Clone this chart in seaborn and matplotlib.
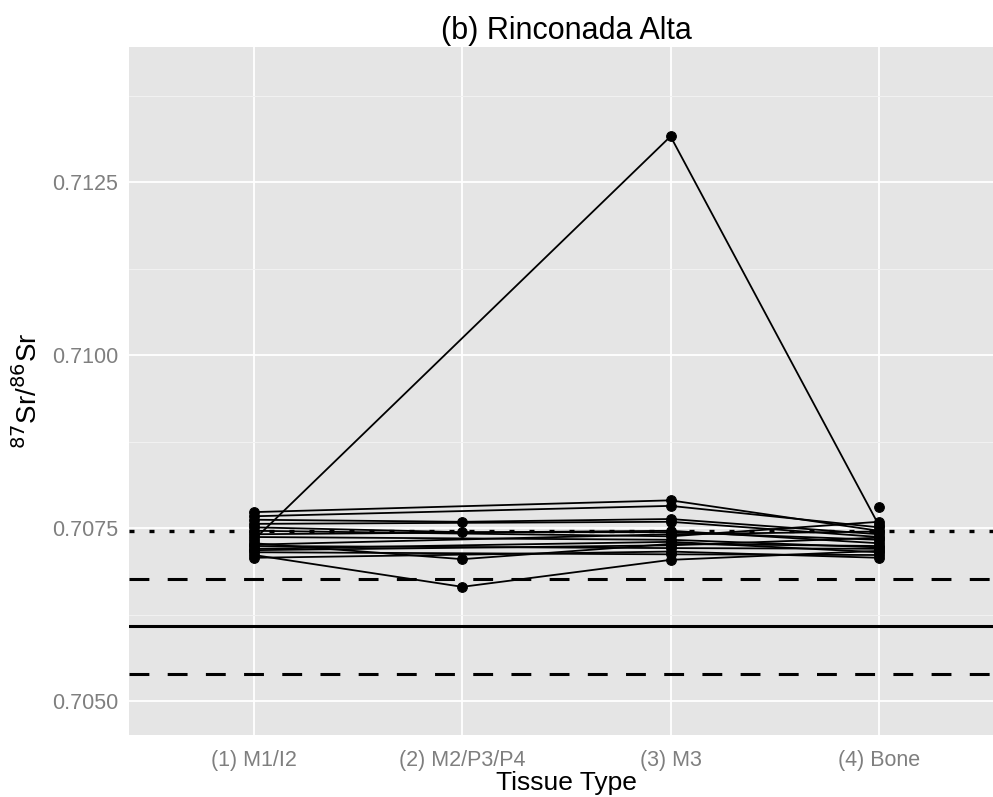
import numpy as np
import pandas as pd
import matplotlib
matplotlib.use("Agg")
import matplotlib.pyplot as plt
import seaborn as sns

# tissue categories (x axis)
tissues = ["(1) M1/I2", "(2) M2/P3/P4", "(3) M3", "(4) Bone"]

# 87Sr/86Sr per individual, one list per tissue (nan = not sampled)
m1_i2 = [0.70733, 0.70773, 0.70767, 0.70762, 0.70756, 0.70751, 0.70746, 0.70741,
         0.70737, 0.70728, 0.70724, 0.70720, 0.70715, 0.70711, 0.70707, 0.70726,
         0.70718, np.nan]
m2_p3_p4 = [np.nan, np.nan, np.nan, 0.70759, np.nan, 0.70744, np.nan, np.nan,
            np.nan, 0.70705, np.nan, np.nan, np.nan, 0.70665, np.nan, np.nan,
            np.nan, np.nan]
m3 = [0.71316, 0.70790, 0.70782, 0.70763, 0.70759, 0.70744, 0.70738, 0.70746,
      0.70733, 0.70727, 0.70721, 0.70730, 0.70712, 0.70704, 0.70716, 0.70741,
      0.70725, np.nan]
bone = [0.70754, 0.70746, 0.70751, 0.70741, 0.70737, 0.70733, 0.70759, 0.70728,
        0.70722, 0.70724, 0.70720, 0.70715, 0.70711, 0.70717, 0.70707, 0.70745,
        0.70736, 0.70780]

# local baseline reference lines
ref_mean = 0.70608
ref_sd_low = 0.70539
ref_sd_high = 0.70676
ref_upper = 0.70746

rows = []
for tissue_idx, vals in enumerate([m1_i2, m2_p3_p4, m3, bone]):
    for ind, v in enumerate(vals):
        rows.append({"id": ind, "tissue": tissue_idx, "sr": v})
df = pd.DataFrame(rows).dropna()

sns.set_style("darkgrid", {"axes.facecolor": "#E5E5E5", "grid.color": "white"})
plt.rcParams["font.family"] = ["Liberation Sans", "DejaVu Sans"]

fig = plt.figure(figsize=(9.93, 7.97), dpi=100)
ax = fig.add_axes([0.1299, 0.0778, 0.881, 0.8632])

ax.axhline(ref_upper, color="black", lw=2.4, linestyle=(0, (1.5, 4.5)), zorder=2)
ax.axhline(ref_sd_high, color="black", lw=2.2, linestyle=(0, (6.5, 6)), zorder=2)
ax.axhline(ref_mean, color="black", lw=2.2, zorder=2)
ax.axhline(ref_sd_low, color="black", lw=2.2, linestyle=(0, (6.5, 6)), zorder=2)

sns.lineplot(data=df, x="tissue", y="sr", units="id", estimator=None,
             color="black", lw=1.3, marker="o", markersize=7,
             markeredgecolor="black", ax=ax, zorder=3)

ax.set_xlim(-0.6, 3.6)
ax.set_ylim(0.704509, 0.714451)
ax.set_xticks(range(len(tissues)))
ax.set_xticklabels(tissues)
ax.set_yticks([0.7050, 0.7075, 0.7100, 0.7125])
ax.set_yticklabels(["0.7050", "0.7075", "0.7100", "0.7125"])
ax.set_yticks([0.70625, 0.70875, 0.71125, 0.71375], minor=True)
ax.set_xticks([], minor=True)
ax.grid(which="major", color="white", lw=1.3)
ax.grid(which="minor", axis="y", color="#F2F2F2", lw=0.7)
for s in ax.spines.values():
    s.set_visible(False)
ax.tick_params(axis="both", which="major", colors="#7F7F7F", labelsize=15.5,
               length=5, width=1, pad=3)
ax.tick_params(axis="x", which="major", pad=6)
ax.tick_params(axis="both", which="minor", length=0)

ax.set_xlabel("Tissue Type", fontsize=19, labelpad=0, color="black")
ax.set_ylabel(r"$^{87}$Sr/$^{86}$Sr", fontsize=20, labelpad=6, color="black")
ax.set_title("(b) Rinconada Alta", fontsize=22, pad=6, color="black")

fig.savefig("out.png", dpi=100)
